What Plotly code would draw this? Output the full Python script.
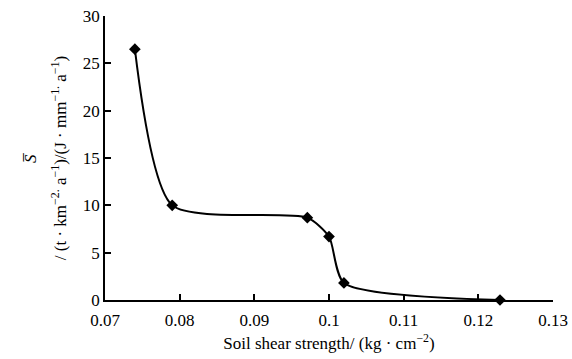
import plotly.graph_objects as go

shear_strength = [0.0740, 0.0790, 0.0971, 0.1000, 0.1020, 0.1229]
s_bar = [26.5, 10.0, 8.7, 6.7, 1.8, 0.0]

x_ticks = [0.07, 0.08, 0.09, 0.10, 0.11, 0.12, 0.13]
x_tick_labels = ["0.07", "0.08", "0.09", "0.1", "0.11", "0.12", "0.13"]
y_ticks = [0, 5, 10, 15, 20, 25, 30]

font_family = "Liberation Serif"

fig = go.Figure()
fig.add_trace(go.Scatter(
    x=shear_strength, y=s_bar, mode="lines+markers",
    line=dict(color="black", width=2, shape="spline", smoothing=0.65),
    marker=dict(symbol="diamond", size=9, color="black"),
    showlegend=False, cliponaxis=False,
))

fig.update_layout(
    width=572, height=359,
    margin=dict(l=105, r=19, t=16, b=59, autoexpand=False),
    paper_bgcolor="white", plot_bgcolor="white",
    font=dict(family=font_family, size=17, color="black"),
    xaxis=dict(
        range=[0.07, 0.13], tickvals=x_ticks, ticktext=x_tick_labels,
        ticks="inside", ticklen=6, tickcolor="black", tickwidth=1.5,
        showline=True, linecolor="black", linewidth=1.5,
        showgrid=False, zeroline=False, automargin=False,
        ticklabelstandoff=4, ticklabeloverflow="allow",
        tickfont=dict(family=font_family, size=17),
        title=dict(text="Soil shear strength/ (kg · cm<sup>−2</sup>)", standoff=8,
                   font=dict(family=font_family, size=17)),
    ),
    yaxis=dict(
        range=[0, 30], tickvals=y_ticks,
        ticks="inside", ticklen=6, tickcolor="black", tickwidth=1.5,
        showline=True, linecolor="black", linewidth=1.5,
        showgrid=False, zeroline=False, automargin=False,
        ticklabeloverflow="allow",
        tickfont=dict(family=font_family, size=17),
        title=dict(text="/ (t · km<sup>−2.</sup> a<sup>−1</sup>)/(J · mm<sup>−1.</sup> a<sup>−1</sup>)",
                   standoff=12, font=dict(family=font_family, size=17)),
    ),
    annotations=[dict(
        text="<i>S̅</i>", xref="paper", yref="paper", x=0, y=0.5,
        xanchor="center", yanchor="middle", xshift=-75, textangle=-90,
        showarrow=False, font=dict(family=font_family, size=17, color="black"),
    )],
)

fig.write_html(
    "out.html",
    config={"displayModeBar": False},
    post_script="document.body.style.margin='0';document.body.style.overflow='hidden';",
)
